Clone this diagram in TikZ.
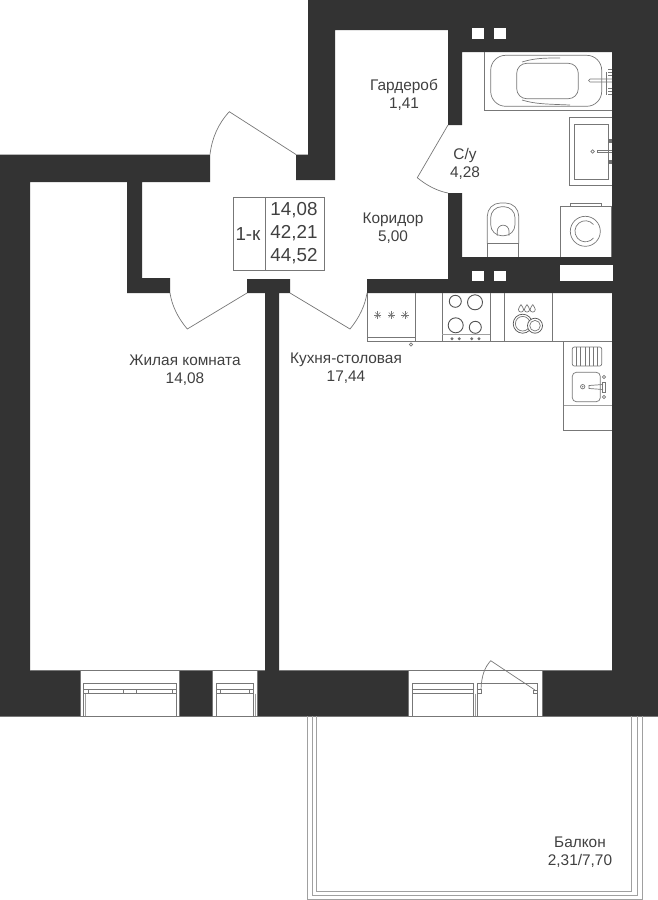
\documentclass[tikz,border=0pt]{standalone}
\usepackage{fontspec}
\setmainfont{Liberation Sans}
\definecolor{wallcol}{HTML}{333333}
\definecolor{textcol}{HTML}{404040}
\definecolor{linecol}{HTML}{777777}
\tikzset{
  wallfill/.style={fill=wallcol},
  fixture/.style={draw=linecol, line width=0.7pt},
  palefix/.style={draw=linecol!70, line width=0.9pt},
  doorleaf/.style={draw=linecol, line width=0.7pt},
  roomlabel/.style={text=textcol, align=center, font=\fontsize{15.4}{18}\selectfont},
  infolabel/.style={text=textcol, font=\fontsize{18.8}{20}\selectfont},
}
\begin{document}
\begin{tikzpicture}[x=1pt, y=-1pt]

    \useasboundingbox (0, 0) rectangle (658, 900);

    % Muros
    \fill[wallfill]
      (308, 0) rectangle (658, 30)
      (448, 0) rectangle (658, 52)
      (308, 0) rectangle (335, 180)
      (296, 154.5) rectangle (335, 180)
      (0, 154.5) rectangle (210, 182)
      (0, 154.5) rectangle (30, 716)
      (448, 30) rectangle (462, 125)
      (448, 193) rectangle (462, 280)
      (448, 257) rectangle (658, 280)
      (367, 279) rectangle (658, 293)
      (612, 0) rectangle (658, 716)
      (127, 182) rectangle (142, 278)
      (127, 278) rectangle (170, 293)
      (247, 279) rectangle (290, 293)
      (265, 293) rectangle (279, 670.5)
      (0, 670.5) rectangle (80, 716)
      (179, 670.5) rectangle (212, 716)
      (257, 670.5) rectangle (408, 716)
      (542, 670.5) rectangle (658, 716);

    % Huecos
    \foreach \hx in {472, 494} {
      \fill[white] (\hx, 28) rectangle (\hx + 11.5, 39);
      \fill[white] (\hx, 271) rectangle (\hx + 11.5, 281);
    }
    \fill[white] (560, 265) rectangle (613, 281);

    % Bordes
    \draw[fixture] (30, 670.5) -- (265, 670.5);
    \draw[fixture] (279, 670.5) -- (612, 670.5);
    \draw[fixture] (0, 716) -- (658, 716);
    \draw[fixture] (80, 670.5) -- (80, 716);
    \draw[fixture] (179, 670.5) -- (179, 716);
    \draw[fixture] (212, 670.5) -- (212, 716);
    \draw[fixture] (257, 670.5) -- (257, 716);
    \draw[fixture] (408, 670.5) -- (408, 716);
    \draw[fixture] (542, 670.5) -- (542, 716);

    % Ventanas
    \draw[fixture] (83, 716) -- (83, 683) -- (176, 683) -- (176, 716);
    \draw[palefix] (85, 693.5) -- (85, 716);
    \draw[fixture] (83, 689.5) rectangle (176, 693.7);
    \foreach \tx in {88, 123, 136, 172}
      \draw[fixture] (\tx, 689.5) -- (\tx, 693.7);
    \draw[fixture] (216, 716) -- (216, 683) -- (253.7, 683) -- (253.7, 716);
    \draw[palefix] (255.5, 693.5) -- (255.5, 716);
    \draw[fixture] (216, 689.5) rectangle (253.7, 693.7);
    \foreach \tx in {220.7, 249}
      \draw[fixture] (\tx, 689.5) -- (\tx, 693.7);
    \draw[fixture] (412.3, 716) -- (412.3, 683.3) -- (473.3, 683.3) -- (473.3, 716);
    \draw[palefix] (475, 693.5) -- (475, 716);
    \draw[fixture] (412.3, 689.3) -- (473.3, 689.3);
    \draw[fixture] (412.3, 693.3) -- (473.3, 693.3);

    % Puerta del balcon
    \draw[fixture] (477.3, 716) -- (477.3, 683.3) -- (537.7, 683.3) -- (537.7, 716);
    \draw[fixture] (477.6, 689.5) rectangle (481.5, 693);
    \draw[fixture] (533.5, 690) rectangle (537.4, 693);
    \draw[doorleaf] (535, 690) -- (490.7, 660.7);
    \draw[doorleaf] (490.7, 660.7) .. controls (485, 667) and (481.5, 675) .. (481, 689.5);

    % Puertas
    \draw[doorleaf] (296, 154.5) -- (229.3, 111.7) .. controls (218, 124) and (212, 138) .. (210, 154.5);
    \draw[doorleaf] (247, 293) -- (187.3, 329) .. controls (178, 318) and (172, 306) .. (170, 293);
    \draw[doorleaf] (290, 293) -- (350, 329) .. controls (359, 318) and (365, 306) .. (367, 293);
    \draw[doorleaf] (448, 125) -- (417.3, 177.7) .. controls (426, 185) and (437, 191) .. (448, 193);

    % Balcon
    \draw[palefix] (307.3, 716) -- (307.3, 899) -- (642, 899) -- (642, 716);
    \draw[palefix] (312, 716) -- (312, 895.5) -- (637, 895.5) -- (637, 716);
    \draw[palefix] (316, 716) -- (316, 891) -- (631.5, 891) -- (631.5, 716);

    % Bano
    \draw[fixture] (612, 110.3) -- (484.3, 110.3) -- (484.3, 52);
    \draw[fixture, rounded corners=15pt] (490.7, 55.3) rectangle (601.7, 106.3);
    \draw[fixture, rounded corners=10pt] (516.7, 63.3) rectangle (578.3, 98.7);
    \draw[fixture] (522, 62) .. controls (535, 58) and (545, 58) .. (560, 58);
    \draw[fixture] (522, 100) .. controls (535, 104) and (545, 104) .. (570, 105);
    \draw[fixture] (612, 79) -- (590, 79) arc[start angle=270, end angle=90, radius=1.5] -- (612, 82);
    \draw[fixture, line width=1pt] (608, 72) -- (612, 72) (608, 69) -- (612, 69) (608, 75) -- (612, 75);
    \draw[fixture, line width=1pt] (608, 88) -- (612, 88) (608, 91) -- (612, 91) (608, 94) -- (612, 94);
    \draw[fixture] (606, 72) -- (606, 95);

    \draw[fixture] (612, 117.3) -- (569.3, 117.3) -- (569.3, 185.3) -- (612, 185.3);
    \draw[fixture] (574, 124.3) rectangle (608.3, 179);
    \draw[fixture] (592.6, 151.5) circle (1.7);
    \draw[fixture] (612, 150) -- (597, 150) -- (597, 152.3) -- (612, 152.3);
    \fill[wallcol!70] (607.5, 139) rectangle (611.5, 143);
    \fill[wallcol!70] (607.5, 159.5) rectangle (611.5, 163.5);

    \draw[fixture] (560, 257) -- (560, 206) -- (611, 206) -- (611, 257);
    \draw[fixture] (570, 206) -- (570, 203) -- (601, 203) -- (601, 206);
    \draw[fixture] (585.3, 231.3) circle (15);
    \draw[fixture] (593.5, 224.5) arc[start angle=-40, end angle=-320, radius=10.5];

    \draw[fixture] (487.3, 257) -- (487.3, 243.5) -- (518.7, 243.5) -- (518.7, 257);
    \draw[fixture, rounded corners=13pt] (487.3, 243.5) -- (487.3, 203) -- (518.7, 203) -- (518.7, 243.5);
    \draw[fixture, rounded corners=11pt] (490.7, 235.7) -- (490.7, 206.7) -- (515, 206.7) -- (515, 235.7) -- cycle;
    \draw[fixture] (497.3, 235.7) -- (497.3, 231) arc[start angle=180, end angle=360, radius=5.85] -- (509, 235.7);

    % Cocina
    \draw[fixture] (367.3, 293) -- (367.3, 341) -- (612, 341);
    \draw[fixture] (367.3, 337.3) -- (415.7, 337.3);
    \draw[fixture] (415.7, 293) -- (415.7, 341);
    \draw[fixture] (411, 344.5) circle (1.7);
    \foreach \ax in {377.7, 391.3, 405} {
      \foreach \ang in {0, 45, 90, 135}
        \draw[fixture, line width=0.5pt] (\ax, 315) ++(\ang:3.6) -- ++(\ang+180:7.2);
    }
    \draw[fixture] (442, 293) -- (442, 341);
    \draw[fixture] (490.3, 293) -- (490.3, 341);
    \draw[fixture] (504.3, 293) -- (504.3, 341);
    \draw[fixture] (552.3, 293) -- (552.3, 341);
    \draw[palefix] (442, 334.7) -- (490.3, 334.7);
    \draw[wallcol!85, line width=0.9pt] (455.3, 301.3) circle (6);
    \draw[wallcol!85, line width=0.9pt] (475, 302.3) circle (7.5);
    \draw[wallcol!85, line width=0.9pt] (455.7, 325.3) circle (7.5);
    \draw[wallcol!85, line width=0.9pt] (475.3, 327.3) circle (6);
    \foreach \kx in {452, 459.3, 471.7, 479}
      \fill[wallcol!70] (\kx, 338.7) circle (1.6);

    \foreach \dx in {521, 527, 532.7}
      \draw[fixture] (\dx, 304.5) .. controls (\dx + 1, 306.5) and (\dx + 2.6, 308) .. (\dx + 2.6, 309.5)
        arc[start angle=0, end angle=180, radius=2.6]
        .. controls (\dx - 2.6, 308) and (\dx - 1, 306.5) .. (\dx, 304.5);
    \draw[wallcol!85, line width=0.7pt] (522.7, 323.7) circle (9.5);
    \draw[fixture] (522.7, 323.7) circle (7.3);
    \fill[white] (535, 325.7) circle (7.5);
    \draw[wallcol!85, line width=0.7pt] (535, 325.7) circle (7.5);
    \draw[fixture] (535, 325.7) circle (5.3);

    \draw[fixture] (563.7, 341) -- (563.7, 430.3) -- (612, 430.3);
    \draw[palefix] (563.7, 405.7) -- (612, 405.7);
    \draw[fixture, rounded corners=2pt] (572.3, 347) rectangle (601.7, 366);
    \foreach \gx in {576.5, 580.7, 584.9, 589.1, 593.3, 597.5}
      \draw[fixture, line width=0.5pt] (\gx, 347) -- (\gx, 366);
    \draw[fixture, rounded corners=4pt] (572.3, 372.3) rectangle (600.3, 401.7);
    \draw[fixture] (582.7, 386.7) circle (2.2);
    \fill[linecol] (582.7, 386.7) circle (0.8);
    \draw[fixture] (603, 384.5) -- (589, 385.5) -- (589, 388.5) -- (603, 389.5);
    \draw[fixture] (602.5, 382) rectangle (605.5, 392);
    \draw[fixture] (604, 377) circle (1.7);
    \draw[fixture] (604, 397) circle (1.7);

    % Cuadro de areas
    \draw[fixture] (233.7, 197.3) rectangle (324.3, 270.3);
    \draw[fixture] (265.3, 197.3) -- (265.3, 270.3);
    \node[infolabel] (tipo) at (248, 234.5) {1-к};
    \node[infolabel] (areaviva) at (294, 210) {14,08};
    \node[infolabel] (areaneta) at (294, 233) {42,21};
    \node[infolabel] (areatotal) at (294, 256) {44,52};

    % Etiquetas
    \node[roomlabel] (gardrob) at (404, 94.5) {Гардероб\\1,41};
    \node[roomlabel] (banyo) at (465, 164) {С/у\\4,28};
    \node[roomlabel] (koridor) at (393, 228) {Коридор\\5,00};
    \node[roomlabel] (zhilaya) at (185, 370) {Жилая комната\\14,08};
    \node[roomlabel] (kuhnya) at (346, 368) {Кухня-столовая\\17,44};
    \node[roomlabel] (balkon) at (580, 852) {Балкон\\2,31/7,70};

\end{tikzpicture}
\end{document}
